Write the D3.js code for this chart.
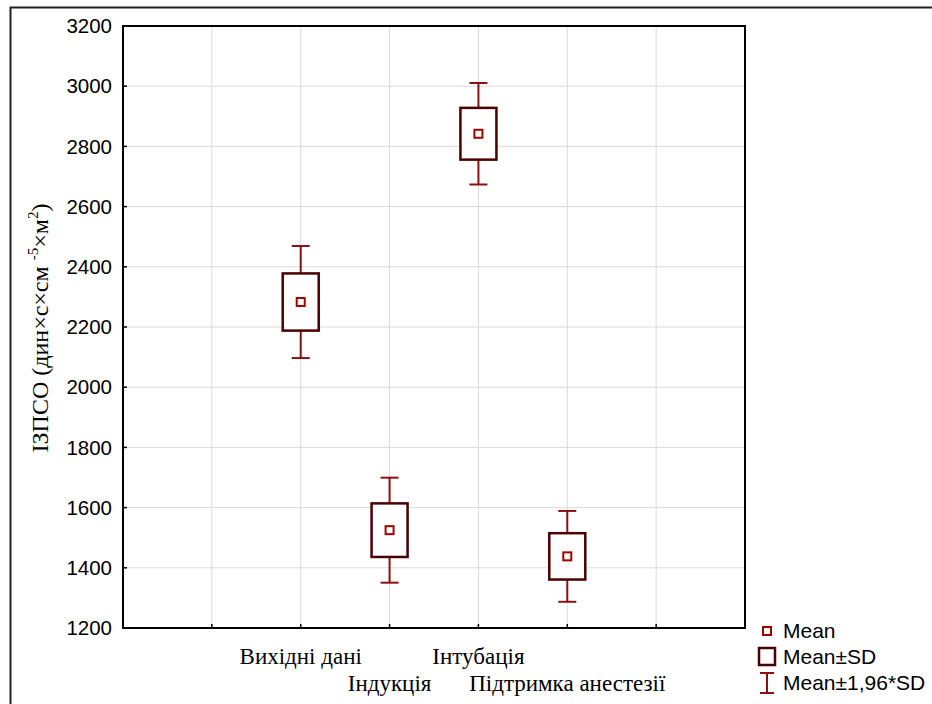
<!DOCTYPE html>
<html>
<head>
<meta charset="utf-8">
<script src="https://cdn.jsdelivr.net/npm/d3@7"></script>
<style>
  body { margin: 0; background: #fff; }
  .tick-y { font-family: "Liberation Sans", Arial, sans-serif; font-size: 20.5px; fill: #000; }
  .cat { font-family: "Liberation Serif", "DejaVu Serif", "Times New Roman", serif; font-size: 23px; fill: #000; }
  .legend { font-family: "Liberation Sans", Arial, sans-serif; font-size: 21px; fill: #000; }
</style>
</head>
<body>
<svg id="chart" width="932" height="704"></svg>
<script>
// Chart data
const categories = ["Вихідні дані", "Індукція", "Інтубація", "Підтримка анестезії"];
const catPos = [2, 3, 4, 5];
const means = [2283, 1525, 2842, 1438];
const sds = [95, 89, 86, 77];
const yTicks = [1200, 1400, 1600, 1800, 2000, 2200, 2400, 2600, 2800, 3000, 3200];

const margin = { left: 123, top: 26, right: 745, bottom: 628 };

const svg = d3.select("#chart");

const x = d3.scaleLinear().domain([0, 7]).range([margin.left, margin.right]);
const y = d3.scaleLinear().domain([1200, 3200]).range([margin.bottom, margin.top]);

// outer frame
svg.append("path")
    .attr("d", `M10.5,${704} V7.5 H932`)
    .attr("fill", "none")
    .attr("stroke", "#222")
    .attr("stroke-width", 2);

// grid
svg.append("g")
    .selectAll("line")
    .data(yTicks.slice(1, -1))
    .join("line")
    .attr("x1", margin.left).attr("x2", margin.right)
    .attr("y1", d => y(d)).attr("y2", d => y(d))
    .attr("stroke", "#dadada").attr("stroke-width", 1);

svg.append("g")
    .selectAll("line")
    .data(d3.range(1, 7))
    .join("line")
    .attr("y1", margin.top).attr("y2", margin.bottom)
    .attr("x1", d => x(d)).attr("x2", d => x(d))
    .attr("stroke", "#dadada").attr("stroke-width", 1);

// plot frame
svg.append("rect")
    .attr("x", margin.left).attr("y", margin.top)
    .attr("width", margin.right - margin.left)
    .attr("height", margin.bottom - margin.top)
    .attr("fill", "none").attr("stroke", "#000").attr("stroke-width", 2);

// y axis ticks (inside) + labels
const yAxis = svg.append("g");
yAxis.selectAll("line")
    .data(yTicks)
    .join("line")
    .attr("x1", margin.left).attr("x2", margin.left + 4)
    .attr("y1", d => y(d)).attr("y2", d => y(d))
    .attr("stroke", "#000").attr("stroke-width", 1.5);
yAxis.selectAll("text")
    .data(yTicks)
    .join("text")
    .attr("class", "tick-y")
    .attr("x", 112)
    .attr("y", d => y(d))
    .attr("dy", "0.35em")
    .attr("text-anchor", "end")
    .text(d => d);

// x ticks (inside)
svg.append("g")
    .selectAll("line")
    .data(d3.range(1, 7))
    .join("line")
    .attr("x1", d => x(d)).attr("x2", d => x(d))
    .attr("y1", margin.bottom).attr("y2", margin.bottom - 4)
    .attr("stroke", "#000").attr("stroke-width", 1.5);

// category labels, staggered
svg.append("g")
    .selectAll("text")
    .data(categories)
    .join("text")
    .attr("class", "cat")
    .attr("x", (d, i) => x(catPos[i]))
    .attr("y", (d, i) => i % 2 === 0 ? 664 : 691)
    .attr("text-anchor", "middle")
    .text(d => d);

// y title
const title = svg.append("text")
    .attr("class", "cat")
    .attr("transform", "translate(48,328) rotate(-90)")
    .attr("text-anchor", "middle")
    .style("font-size", "24px");
title.append("tspan").text("ІЗПСО (дин×с×см ");
title.append("tspan").attr("dy", -10).style("font-size", "15px").text("-5");
title.append("tspan").attr("dy", 10).text("×м");
title.append("tspan").attr("dy", -10).style("font-size", "15px").text("2");
title.append("tspan").attr("dy", 10).text(")");

// box plot marks
const whiskerColor = "#8b1010";
const boxColor = "#4a0000";
const meanColor = "#a00000";
const boxW = 36, capW = 18, meanS = 8;

const groups = svg.append("g")
    .selectAll("g")
    .data(categories.map((c, i) => ({ c, pos: catPos[i], m: means[i], sd: sds[i] })))
    .join("g");

groups.append("line")
    .attr("x1", d => x(d.pos)).attr("x2", d => x(d.pos))
    .attr("y1", d => y(d.m + 1.96 * d.sd)).attr("y2", d => y(d.m + d.sd))
    .attr("stroke", whiskerColor).attr("stroke-width", 2);
groups.append("line")
    .attr("x1", d => x(d.pos)).attr("x2", d => x(d.pos))
    .attr("y1", d => y(d.m - 1.96 * d.sd)).attr("y2", d => y(d.m - d.sd))
    .attr("stroke", whiskerColor).attr("stroke-width", 2);
groups.append("line")
    .attr("x1", d => x(d.pos) - capW / 2).attr("x2", d => x(d.pos) + capW / 2)
    .attr("y1", d => y(d.m + 1.96 * d.sd)).attr("y2", d => y(d.m + 1.96 * d.sd))
    .attr("stroke", whiskerColor).attr("stroke-width", 2);
groups.append("line")
    .attr("x1", d => x(d.pos) - capW / 2).attr("x2", d => x(d.pos) + capW / 2)
    .attr("y1", d => y(d.m - 1.96 * d.sd)).attr("y2", d => y(d.m - 1.96 * d.sd))
    .attr("stroke", whiskerColor).attr("stroke-width", 2);
groups.append("rect")
    .attr("x", d => x(d.pos) - boxW / 2)
    .attr("y", d => y(d.m + d.sd))
    .attr("width", boxW)
    .attr("height", d => y(d.m - d.sd) - y(d.m + d.sd))
    .attr("fill", "#fff").attr("stroke", boxColor).attr("stroke-width", 2.5);
groups.append("rect")
    .attr("x", d => x(d.pos) - meanS / 2)
    .attr("y", d => y(d.m) - meanS / 2)
    .attr("width", meanS).attr("height", meanS)
    .attr("fill", "#fff").attr("stroke", meanColor).attr("stroke-width", 2);

// legend
const lg = svg.append("g");
lg.append("rect").attr("x", 763).attr("y", 627).attr("width", 8).attr("height", 8)
    .attr("fill", "#fff").attr("stroke", meanColor).attr("stroke-width", 2);
lg.append("rect").attr("x", 759).attr("y", 648).attr("width", 16).attr("height", 17)
    .attr("fill", "#fff").attr("stroke", boxColor).attr("stroke-width", 2.5);
lg.append("path").attr("d", "M760,673 H774 M767,673 V693 M760,693 H774")
    .attr("fill", "none").attr("stroke", whiskerColor).attr("stroke-width", 2);
const legendText = ["Mean", "Mean±SD", "Mean±1,96*SD"];
lg.selectAll("text")
    .data(legendText)
    .join("text")
    .attr("class", "legend")
    .attr("x", 783)
    .attr("y", (d, i) => 638 + i * 26)
    .text(d => d);
</script>
</body>
</html>
